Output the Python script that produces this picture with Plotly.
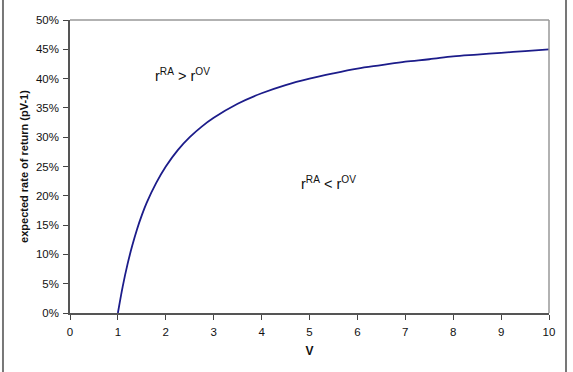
import plotly.graph_objects as go

# values
v_values = [1.0, 1.1, 1.2, 1.3, 1.4, 1.5, 1.6, 1.8, 2.0, 2.25, 2.5, 2.75, 3.0, 3.5, 4.0,
            4.5, 5.0, 5.5, 6.0, 6.5, 7.0, 7.5, 8.0, 8.5, 9.0, 9.5, 10.0]
rate_values = [0.0, 0.045, 0.083, 0.115, 0.143, 0.167, 0.188, 0.222, 0.250, 0.278,
               0.300, 0.318, 0.333, 0.357, 0.375, 0.389, 0.400, 0.409, 0.417, 0.423,
               0.429, 0.433, 0.438, 0.441, 0.444, 0.447, 0.450]
x_ticks = list(range(0, 11))
y_ticks = [0, 0.05, 0.10, 0.15, 0.20, 0.25, 0.30, 0.35, 0.40, 0.45, 0.50]

font = "Liberation Sans, Arial, sans-serif"

fig = go.Figure()
fig.add_trace(go.Scatter(x=v_values, y=rate_values, mode="lines",
                         line=dict(color="#1c1c8a", width=1.8, shape="spline"),
                         hoverinfo="skip", showlegend=False))

fig.update_layout(
    width=573, height=372,
    margin=dict(l=70, r=24, t=20, b=59),
    paper_bgcolor="white", plot_bgcolor="white",
    font=dict(family=font, size=11.5, color="#111"),
    xaxis=dict(range=[0, 10], tickvals=x_ticks, ticks="outside", ticklen=5,
               tickcolor="#444", showline=True, linecolor="#555", linewidth=1.5,
               showgrid=False, zeroline=False, ticklabelstandoff=2,
               title=dict(text="<b>V</b>", font=dict(size=12, family=font), standoff=10)),
    yaxis=dict(range=[0, 0.5], tickvals=y_ticks, tickformat=".0%", ticks="outside",
               ticklen=5, tickcolor="#444", showline=True, linecolor="#555", linewidth=1.5,
               showgrid=False, zeroline=False, ticklabelstandoff=2,
               title=dict(text="<b>expected rate of return (pV-1)</b>",
                          font=dict(size=11, family=font), standoff=5)),
    shapes=[
        dict(type="line", xref="paper", yref="paper", x0=0, x1=1, y0=1, y1=1,
             line=dict(color="#999", width=1.5)),
        dict(type="line", xref="paper", yref="paper", x0=1, x1=1, y0=0, y1=1,
             line=dict(color="#999", width=1.5)),
        dict(type="line", xref="paper", yref="paper", x0=-0.1399, x1=-0.1399,
             y0=-0.21, y1=1.08, line=dict(color="#777", width=2)),
        dict(type="line", xref="paper", yref="paper", x0=1.0355, x1=1.0355,
             y0=-0.21, y1=1.08, line=dict(color="#777", width=2)),
    ],
    annotations=[
        dict(x=1.73, y=0.406, xref="x", yref="y", xanchor="left", yanchor="middle",
             text="r<sup>RA</sup> > r<sup>OV</sup>", showarrow=False,
             font=dict(size=14.5, family=font, color="#111")),
        dict(x=4.78, y=0.222, xref="x", yref="y", xanchor="left", yanchor="middle",
             text="r<sup>RA</sup> < r<sup>OV</sup>", showarrow=False,
             font=dict(size=14.5, family=font, color="#111")),
    ],
)

fig.write_html("out.html")
